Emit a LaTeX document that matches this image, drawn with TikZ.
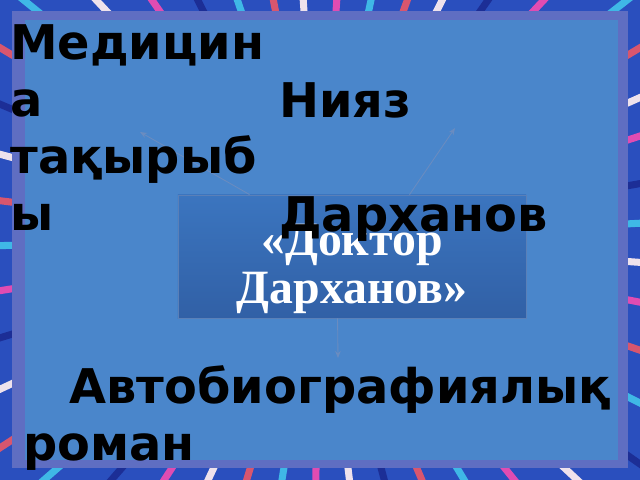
\documentclass[tikz,border=0pt]{standalone}
\usepackage{fontspec}
\setmainfont{Liberation Serif}
\newfontfamily\labelfont{DejaVu Sans}
\usepackage{tikz}
\usetikzlibrary{positioning, calc, arrows.meta}

\definecolor{streakblue}{HTML}{2A4FBE}
\definecolor{streakcyan}{HTML}{3FB8E6}
\definecolor{streakpink}{HTML}{E04CB2}
\definecolor{streakred}{HTML}{D8566E}
\definecolor{streakwhite}{HTML}{EEE2EC}
\definecolor{streakdark}{HTML}{1C2E96}
\definecolor{rimblue}{HTML}{5F6EC2}
\definecolor{panelblue}{HTML}{4A86CB}
\definecolor{boxtop}{HTML}{3B75BF}
\definecolor{boxbottom}{HTML}{3160A6}
\definecolor{linkblue}{HTML}{6A8CC0}

\begin{document}
\begin{tikzpicture}[x=0.025cm, y=-0.025cm,
	labeltext/.style={font=\labelfont\bfseries\fontsize{34}{40.5}\selectfont, text=black, align=left, inner sep=0pt},
	titlebox/.style={minimum width=8.7cm, minimum height=3.075cm, inner sep=0pt, top color=boxtop, bottom color=boxbottom, draw=boxbottom!80!white, line width=0.6pt, text=white, align=center, font=\bfseries\fontsize{34}{34}\selectfont},
	linkarrow/.style={draw=linkblue, line width=0.6pt, -{Stealth[length=5pt, width=4pt]}}]
		\useasboundingbox (0,0) rectangle (640,480);
		\clip (0,0) rectangle (640,480);
		\fill[streakblue] (0,0) rectangle (640,480);
		\foreach \a/\c in {3/streakcyan, 10/streakdark, 18/streakpink, 24/streakwhite, 31/streakred, 38/streakcyan, 47/streakpink, 55/streakdark, 63/streakwhite, 70/streakred, 78/streakcyan, 86/streakpink, 94/streakwhite, 101/streakred, 109/streakcyan, 117/streakdark, 125/streakpink, 133/streakwhite, 141/streakcyan, 149/streakred, 157/streakdark, 165/streakwhite, 173/streakred, 181/streakcyan, 189/streakpink, 197/streakdark, 205/streakwhite, 213/streakred, 221/streakcyan, 229/streakdark, 237/streakpink, 245/streakwhite, 253/streakred, 261/streakcyan, 269/streakpink, 277/streakwhite, 285/streakdark, 293/streakred, 301/streakcyan, 309/streakpink, 317/streakwhite, 325/streakdark, 333/streakcyan, 341/streakred, 349/streakpink, 356/streakwhite}
			\draw[\c, line width=5pt] (320,240) -- ++(\a:11cm);
		\fill[rimblue] (12,11) rectangle (628,468);
		\fill[panelblue] (25,20) rectangle (618,460);
		
		\node[titlebox] (title) at (352,256.5) {\rule{0pt}{40pt}«Доктор\\Дарханов»};
		
		\coordinate (topicend) at (140,132);
		\coordinate (authorend) at (455,128);
		\coordinate (genreend) at (338,358);
		\draw[linkarrow] ($(title.north west)+(72,0)$) -- (topicend);
		\draw[linkarrow] ($(title.north west)+(232,0)$) -- (authorend);
		\draw[linkarrow] ($(title.south west)+(160,0)$) -- (genreend);
		
		\node[labeltext, anchor=base west] (topic) at (10,230) {Медицин\\а\\тақырыб\\ы};
		\node[labeltext, anchor=base west] (author) at (279,231) {Нияз\\[40.5pt]Дарханов};
		\node[labeltext, anchor=base west] (genre) at (23,460) {\hspace*{33pt}Автобиографиялық\\роман};
\end{tikzpicture}
\end{document}
